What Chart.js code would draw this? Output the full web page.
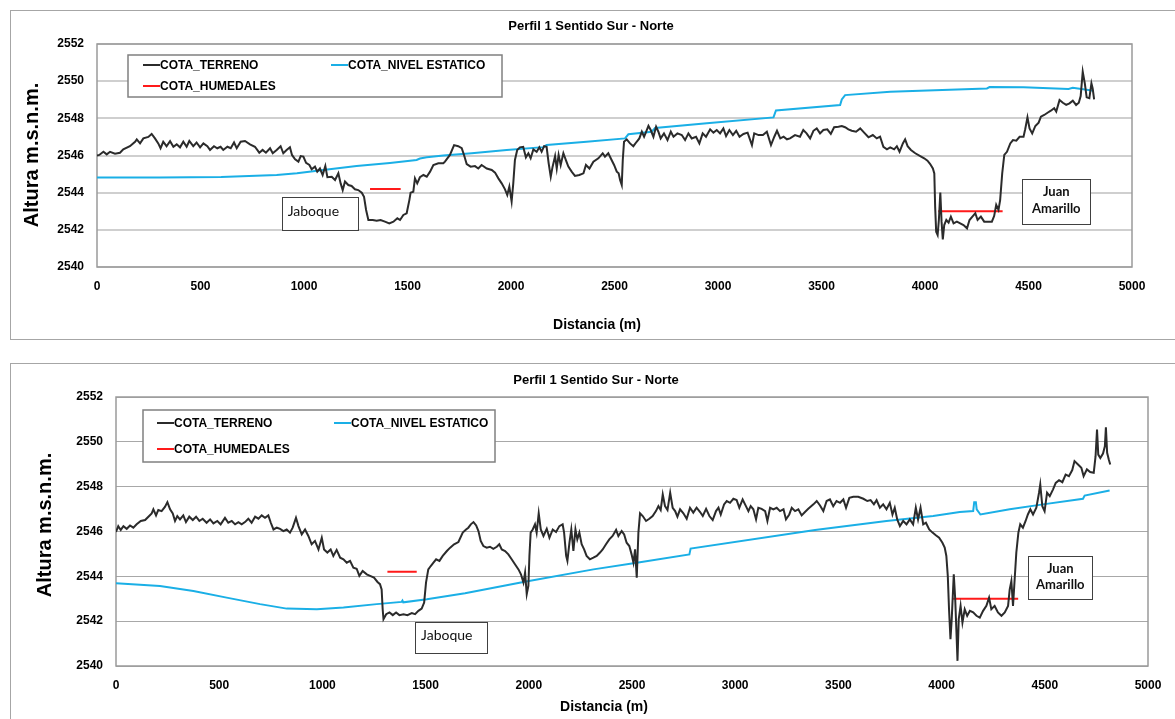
<!DOCTYPE html>
<html>
<head>
<meta charset="utf-8">
<title>Perfil 1 Sentido Sur - Norte</title>
<script src="https://cdn.jsdelivr.net/npm/chart.js@4.4.1/dist/chart.umd.min.js"></script>
<style>
  html, body { margin: 0; padding: 0; background: #fff; overflow: hidden; }
  canvas { position: absolute; }
  #perfilA { left: 10px; top: 10px; }
  #perfilB { left: 10px; top: 363px; }
</style>
</head>
<body>
<canvas id="perfilA" width="1170" height="330"></canvas>
<canvas id="perfilB" width="1170" height="362"></canvas>
<script>
// ---- datos: [distancia (m), cota (m.s.n.m.)] ----

// perfil superior
const terrenoA = [
  [0,2546.0],[11,2546.03],[31,2546.2],[47,2546.06],[63,2546.2],[87,2546.1],[111,2546.15],[127,2546.33],[159,2546.5],[184,2546.74],
  [192,2546.87],[208,2546.65],[224,2546.92],[248,2547.0],[264,2547.16],[280,2546.92],[296,2546.65],[307,2546.39],[320,2546.74],[336,2546.5],
  [353,2546.77],[369,2546.47],[385,2546.6],[401,2546.44],[417,2546.74],[433,2546.47],[446,2546.78],[465,2546.5],[481,2546.7],[498,2546.44],
  [514,2546.65],[533,2546.5],[546,2546.3],[565,2546.5],[581,2546.39],[597,2546.47],[610,2546.3],[630,2546.47],[646,2546.39],[662,2546.7],
  [675,2546.39],[694,2546.74],[715,2546.78],[739,2546.6],[763,2546.47],[784,2546.15],[800,2546.3],[816,2546.15],[836,2546.39],[849,2546.12],
  [868,2546.3],[887,2546.5],[900,2546.12],[916,2546.3],[932,2546.44],[942,2546.03],[957,2545.8],[973,2545.67],[984,2545.97],[997,2545.94],
  [1010,2545.6],[1026,2545.49],[1037,2545.26],[1053,2545.4],[1064,2545.13],[1077,2545.3],[1090,2544.95],[1103,2545.43],[1113,2544.83],[1134,2544.86],
  [1150,2544.68],[1166,2545.04],[1177,2544.5],[1187,2544.14],[1198,2544.6],[1214,2544.41],[1230,2544.36],[1246,2544.18],[1262,2544.14],[1279,2544.0],
  [1290,2543.78],[1300,2543.07],[1311,2542.53],[1332,2542.53],[1351,2542.49],[1370,2542.53],[1391,2542.44],[1412,2542.35],[1432,2542.44],[1451,2542.62],
  [1464,2542.53],[1480,2542.8],[1496,2542.89],[1509,2543.6],[1515,2544.0],[1528,2544.05],[1536,2544.77],[1547,2544.5],[1560,2544.83],[1577,2544.95],
  [1593,2544.86],[1609,2545.13],[1625,2545.49],[1649,2545.58],[1673,2545.58],[1681,2545.67],[1705,2546.03],[1725,2546.56],[1745,2546.5],[1762,2546.39],
  [1773,2546.03],[1786,2545.54],[1805,2545.4],[1826,2545.43],[1842,2545.3],[1858,2545.49],[1883,2545.3],[1907,2545.22],[1923,2545.08],[1939,2544.77],
  [1955,2544.5],[1971,2544.18],[1982,2543.87],[1992,2544.32],[2003,2543.52],[2011,2544.5],[2019,2545.76],[2030,2546.3],[2043,2546.44],[2059,2546.47],
  [2072,2545.9],[2084,2546.12],[2095,2545.85],[2108,2546.33],[2124,2546.2],[2137,2546.44],[2148,2546.2],[2160,2546.5],[2172,2546.47],[2182,2545.58],
  [2192,2544.86],[2201,2545.4],[2213,2545.97],[2221,2545.3],[2230,2546.03],[2240,2545.49],[2253,2546.12],[2266,2545.72],[2277,2545.4],[2293,2545.13],
  [2309,2544.9],[2330,2544.95],[2350,2545.04],[2362,2545.49],[2379,2545.3],[2398,2545.67],[2422,2545.85],[2443,2546.12],[2454,2545.94],[2470,2546.12],
  [2486,2545.76],[2498,2545.49],[2511,2545.13],[2520,2545.04],[2527,2544.68],[2535,2544.41],[2540,2545.76],[2546,2546.74],[2559,2546.87],[2575,2546.65],
  [2591,2546.5],[2607,2546.74],[2620,2546.92],[2632,2547.28],[2643,2547.01],[2653,2547.28],[2664,2547.59],[2675,2547.37],[2688,2547.01],[2701,2547.55],
  [2712,2547.28],[2723,2546.92],[2739,2547.19],[2756,2546.83],[2772,2547.28],[2785,2547.01],[2804,2547.19],[2825,2547.1],[2841,2546.83],[2857,2547.19],
  [2873,2546.92],[2894,2547.01],[2910,2546.65],[2926,2547.19],[2942,2547.01],[2962,2547.41],[2978,2547.23],[2994,2547.37],[3010,2547.19],[3026,2547.46],
  [3039,2547.05],[3055,2547.37],[3072,2547.1],[3088,2547.33],[3104,2547.01],[3123,2547.16],[3143,2547.23],[3164,2546.56],[3175,2547.19],[3196,2547.1],
  [3217,2547.1],[3236,2547.28],[3256,2546.56],[3272,2547.01],[3285,2547.33],[3301,2546.92],[3317,2547.01],[3333,2546.87],[3348,2546.92],[3372,2547.1],
  [3396,2547.01],[3412,2547.37],[3428,2547.19],[3445,2546.92],[3461,2547.33],[3477,2547.46],[3493,2547.19],[3509,2547.37],[3528,2547.41],[3545,2547.16],
  [3561,2547.52],[3582,2547.55],[3598,2547.59],[3614,2547.52],[3630,2547.41],[3646,2547.33],[3667,2547.28],[3687,2547.46],[3706,2547.23],[3727,2546.98],
  [3748,2547.1],[3767,2546.92],[3783,2547.01],[3799,2546.47],[3816,2546.33],[3832,2546.44],[3851,2546.33],[3864,2546.5],[3877,2546.2],[3893,2546.65],
  [3904,2546.87],[3916,2546.5],[3932,2546.3],[3953,2546.12],[3977,2545.97],[3996,2545.85],[4012,2545.72],[4025,2545.54],[4038,2545.3],[4045,2545.04],
  [4049,2543.25],[4054,2541.9],[4061,2541.72],[4067,2542.53],[4074,2544.0],[4080,2542.44],[4086,2541.49],[4093,2542.26],[4103,2542.53],[4114,2542.39],
  [4125,2542.71],[4138,2542.35],[4154,2542.44],[4170,2542.35],[4186,2542.26],[4203,2542.08],[4215,2542.53],[4231,2542.74],[4243,2542.89],[4254,2542.53],
  [4270,2542.71],[4286,2542.44],[4307,2542.44],[4323,2542.44],[4334,2542.74],[4344,2543.34],[4355,2543.07],[4363,2543.6],[4373,2545.04],[4383,2546.03],
  [4396,2546.2],[4412,2546.65],[4425,2546.83],[4441,2546.8],[4457,2547.01],[4476,2547.01],[4484,2547.41],[4495,2548.05],[4505,2547.46],[4518,2547.19],
  [4533,2547.59],[4549,2547.77],[4560,2548.09],[4576,2548.18],[4592,2548.3],[4608,2548.41],[4624,2548.54],[4634,2548.36],[4650,2548.99],[4666,2548.84],
  [4682,2548.72],[4698,2548.81],[4714,2548.95],[4730,2548.72],[4743,2548.84],[4752,2549.2],[4762,2550.51],[4772,2549.88],[4781,2549.13],[4794,2549.08],
  [4804,2549.88],[4810,2549.61],[4817,2549.02]
];
const nivelA = [
  [0,2544.82],[300,2544.82],[600,2544.84],[868,2544.95],[966,2545.04],[1093,2545.22],[1254,2545.43],[1415,2545.6],[1544,2545.76],[1560,2545.84],
  [1593,2545.9],[1673,2546.0],[1810,2546.12],[1979,2546.3],[2156,2546.45],[2172,2546.56],[2365,2546.74],[2551,2546.92],[2567,2547.14],[2680,2547.28],
  [2696,2547.48],[2946,2547.73],[3268,2548.05],[3280,2548.42],[3590,2548.72],[3598,2549.02],[3614,2549.25],[3832,2549.43],[4299,2549.61],[4312,2549.68],
  [4476,2549.67],[4693,2549.58],[4714,2549.64],[4814,2549.49]
];
const humedalesA = [[1319,2544.2],[1467,2544.2],[2700,null],[4064,2543.0],[4375,2543.0]];

// perfil inferior
const terrenoB = [
  [0,2545.98],[11,2546.24],[23,2546.07],[36,2546.24],[52,2546.12],[68,2546.27],[84,2546.17],[100,2546.32],[120,2546.47],[141,2546.51],
  [157,2546.66],[173,2546.81],[181,2546.99],[194,2546.72],[205,2546.96],[221,2546.91],[237,2547.1],[249,2547.31],[262,2546.99],[275,2546.81],
  [286,2546.47],[297,2546.69],[310,2546.54],[326,2546.72],[339,2546.42],[355,2546.66],[372,2546.51],[388,2546.66],[404,2546.47],[420,2546.57],
  [439,2546.39],[456,2546.54],[472,2546.36],[491,2546.47],[507,2546.32],[528,2546.61],[544,2546.39],[561,2546.47],[577,2546.32],[593,2546.42],
  [609,2546.32],[625,2546.42],[641,2546.57],[657,2546.39],[674,2546.66],[690,2546.57],[706,2546.72],[722,2546.61],[738,2546.72],[750,2546.39],
  [763,2546.09],[779,2546.17],[795,2546.12],[811,2546.02],[827,2546.09],[843,2545.95],[856,2546.17],[872,2546.61],[884,2546.24],[900,2545.87],
  [916,2546.09],[932,2545.8],[948,2545.43],[964,2545.58],[981,2545.2],[997,2545.72],[1008,2545.2],[1024,2545.06],[1040,2545.2],[1053,2544.91],
  [1069,2545.18],[1086,2544.83],[1102,2544.76],[1118,2544.61],[1134,2544.69],[1150,2544.39],[1166,2544.34],[1179,2544.02],[1195,2544.24],[1215,2544.09],
  [1231,2544.02],[1250,2543.94],[1267,2543.75],[1279,2543.65],[1287,2543.42],[1292,2542.53],[1296,2542.09],[1309,2542.31],[1325,2542.39],[1341,2542.27],
  [1357,2542.39],[1373,2542.27],[1393,2542.31],[1412,2542.27],[1433,2542.36],[1449,2542.31],[1465,2542.46],[1481,2542.56],[1493,2542.83],[1502,2543.72],
  [1513,2544.31],[1525,2544.46],[1538,2544.61],[1551,2544.76],[1567,2544.69],[1583,2544.91],[1603,2545.13],[1619,2545.28],[1638,2545.43],[1659,2545.53],
  [1680,2545.95],[1696,2546.09],[1707,2546.17],[1719,2546.32],[1732,2546.42],[1745,2546.27],[1756,2546.02],[1767,2545.58],[1780,2545.35],[1796,2545.28],
  [1812,2545.32],[1828,2545.23],[1845,2545.32],[1857,2545.43],[1869,2545.2],[1885,2545.13],[1901,2544.98],[1917,2544.76],[1933,2544.54],[1950,2544.31],
  [1962,2544.09],[1974,2543.72],[1982,2544.17],[1990,2543.2],[1998,2543.57],[2003,2544.91],[2009,2545.95],[2019,2546.09],[2030,2546.32],[2038,2545.95],
  [2048,2546.81],[2058,2546.09],[2071,2545.8],[2087,2546.12],[2100,2545.72],[2116,2546.09],[2132,2545.98],[2148,2546.24],[2164,2546.32],[2171,2545.95],
  [2181,2544.91],[2187,2544.69],[2197,2545.5],[2206,2546.09],[2216,2545.13],[2226,2546.09],[2235,2545.65],[2245,2545.95],[2256,2545.43],[2268,2545.2],
  [2280,2544.91],[2296,2544.76],[2313,2544.83],[2329,2544.91],[2345,2545.06],[2358,2545.2],[2374,2545.43],[2390,2545.65],[2406,2545.8],[2423,2546.07],
  [2434,2545.8],[2450,2546.02],[2462,2545.87],[2474,2545.5],[2487,2545.35],[2498,2544.98],[2507,2544.61],[2515,2545.2],[2523,2543.94],[2531,2545.95],
  [2539,2546.81],[2552,2546.69],[2568,2546.47],[2584,2546.57],[2600,2546.69],[2616,2546.91],[2628,2547.13],[2639,2546.96],[2649,2547.65],[2660,2547.13],
  [2672,2546.96],[2685,2547.73],[2697,2547.06],[2709,2546.91],[2720,2546.66],[2733,2546.99],[2749,2546.81],[2765,2546.57],[2781,2547.06],[2797,2546.84],
  [2813,2547.06],[2830,2546.87],[2843,2546.69],[2859,2547.01],[2875,2546.69],[2891,2546.51],[2907,2546.91],[2919,2547.06],[2930,2546.76],[2946,2547.21],
  [2959,2547.36],[2975,2547.28],[2991,2547.46],[3007,2547.4],[3020,2547.06],[3036,2547.43],[3052,2547.13],[3064,2546.91],[3075,2547.13],[3088,2546.99],
  [3101,2546.54],[3112,2547.06],[3128,2547.01],[3145,2546.91],[3156,2546.47],[3169,2547.06],[3185,2546.99],[3201,2547.06],[3217,2546.91],[3234,2546.99],
  [3246,2546.54],[3262,2546.76],[3274,2547.06],[3290,2546.91],[3306,2546.99],[3322,2546.72],[3338,2546.87],[3354,2547.01],[3379,2547.21],[3395,2547.36],
  [3411,2547.16],[3427,2546.91],[3443,2547.36],[3459,2547.43],[3475,2547.13],[3491,2547.36],[3508,2547.28],[3524,2547.43],[3537,2547.06],[3553,2547.5],
  [3572,2547.55],[3596,2547.55],[3621,2547.46],[3640,2547.36],[3656,2547.4],[3672,2547.21],[3685,2547.4],[3701,2547.06],[3717,2547.21],[3733,2546.99],
  [3749,2547.28],[3762,2546.76],[3773,2547.06],[3785,2546.54],[3798,2546.24],[3814,2546.47],[3830,2546.32],[3846,2546.54],[3862,2546.32],[3875,2547.06],
  [3886,2546.54],[3898,2547.06],[3911,2546.32],[3924,2546.39],[3940,2546.09],[3956,2545.95],[3972,2545.83],[3988,2545.72],[4004,2545.5],[4015,2545.28],
  [4023,2544.91],[4030,2544.02],[4036,2542.53],[4043,2541.2],[4049,2542.09],[4059,2544.09],[4066,2542.98],[4072,2541.5],[4077,2540.23],[4083,2542.09],
  [4092,2542.68],[4101,2541.94],[4112,2542.53],[4124,2542.24],[4137,2542.46],[4153,2542.39],[4169,2542.24],[4185,2542.16],[4201,2542.46],[4217,2542.68],
  [4230,2543.05],[4241,2542.53],[4257,2542.68],[4273,2542.39],[4290,2542.24],[4306,2542.39],[4322,2542.68],[4330,2543.42],[4338,2543.79],[4346,2542.68],
  [4354,2543.87],[4362,2545.06],[4372,2545.95],[4381,2546.32],[4394,2546.17],[4407,2546.47],[4418,2546.76],[4430,2546.99],[4443,2546.76],[4459,2547.06],
  [4472,2547.73],[4478,2548.1],[4488,2547.13],[4499,2546.91],[4511,2547.73],[4524,2547.58],[4540,2547.88],[4553,2548.17],[4569,2548.29],[4585,2548.2],
  [4601,2548.54],[4617,2548.47],[4633,2548.74],[4644,2549.14],[4661,2548.99],[4677,2548.84],[4688,2548.47],[4704,2548.77],[4720,2548.65],[4737,2548.62],
  [4746,2549.36],[4753,2550.55],[4759,2549.43],[4769,2549.28],[4782,2549.48],[4791,2549.8],[4796,2550.65],[4802,2549.51],[4810,2549.21],[4817,2548.99]
];
const nivelB = [
  [0,2543.69],[213,2543.57],[375,2543.35],[536,2543.05],[698,2542.76],[827,2542.56],[973,2542.53],[1102,2542.61],[1263,2542.76],[1384,2542.86],
  [1388,2542.92],[1392,2542.84],[1506,2542.98],[1691,2543.25],[1974,2543.75],[2313,2544.31],[2523,2544.61],[2778,2544.98],[2784,2545.24],[3387,2546.07],
  [3733,2546.47],[3959,2546.69],[4088,2546.87],[4153,2546.91],[4158,2547.31],[4166,2547.31],[4170,2546.99],[4188,2546.76],[4330,2546.99],[4491,2547.21],
  [4685,2547.46],[4693,2547.6],[4814,2547.83]
];
const humedalesB = [[1315,2544.2],[1457,2544.2],[2700,null],[4056,2543.0],[4371,2543.0]];

const series = ['COTA_TERRENO', 'COTA_NIVEL ESTATICO', 'COTA_HUMEDALES'];
const distTicks = [0, 500, 1000, 1500, 2000, 2500, 3000, 3500, 4000, 4500, 5000];
const cotaTicks = [2540, 2542, 2544, 2546, 2548, 2550, 2552];

const FONT = "'Liberation Sans', Arial, sans-serif";
const FONT2 = "Lato, 'Open Sans', sans-serif";
const colores = ['#2b2b2b', '#1aafe6', '#ff1a1a'];

Chart.defaults.font.family = FONT;
Chart.defaults.color = '#000';

const toXY = arr => arr.map(p => ({ x: p[0], y: p[1] }));

// titulos, leyenda, recuadros de texto y marco del area de trazado
const decoPerfil = {
  id: 'decoPerfil',
  beforeDraw(chart, args, o) {
    const { ctx, width, height } = chart;
    ctx.save();
    ctx.fillStyle = '#fff';
    ctx.fillRect(0, 0, width, height);
    ctx.strokeStyle = '#a6a6a6';
    ctx.lineWidth = 1;
    ctx.strokeRect(0.5, 0.5, width + 20, height - 1);
    ctx.restore();
  },
  beforeDatasetsDraw(chart, args, o) {
    const { ctx, chartArea: a } = chart;
    ctx.save();
    ctx.strokeStyle = o.marco;
    ctx.lineWidth = 1.5;
    ctx.strokeRect(a.left, a.top, a.right - a.left, a.bottom - a.top);
    ctx.restore();
  },
  afterDraw(chart, args, o) {
    const { ctx, chartArea: a, scales } = chart;
    ctx.save();
    ctx.fillStyle = '#000';
    ctx.textBaseline = 'middle';

    // titulo
    ctx.font = 'bold 13px ' + FONT;
    ctx.textAlign = 'center';
    ctx.fillText('Perfil 1 Sentido Sur - Norte', o.titulo[0], o.titulo[1]);

    // eje x
    ctx.font = 'bold 14px ' + FONT;
    ctx.fillText('Distancia (m)', o.ejeX[0], o.ejeX[1]);

    // eje y
    ctx.save();
    ctx.translate(o.ejeY[0], o.ejeY[1]);
    ctx.rotate(-Math.PI / 2);
    ctx.font = 'bold 20px ' + FONT;
    ctx.fillText('Altura m.s.n.m.', 0, 0);
    ctx.restore();

    // leyenda
    const L = o.leyenda;
    ctx.fillStyle = '#fff';
    ctx.fillRect(L.x, L.y, L.w, L.h);
    ctx.strokeStyle = '#808080';
    ctx.lineWidth = 1.5;
    ctx.strokeRect(L.x, L.y, L.w, L.h);
    ctx.font = 'bold 12px ' + FONT;
    ctx.textAlign = 'left';
    chart.data.datasets.forEach((ds, i) => {
      const [dx, dy] = L.items[i];
      ctx.strokeStyle = ds.borderColor;
      ctx.lineWidth = 2;
      ctx.beginPath();
      ctx.moveTo(L.x + dx, L.y + dy);
      ctx.lineTo(L.x + dx + 17, L.y + dy);
      ctx.stroke();
      ctx.fillStyle = '#000';
      ctx.fillText(ds.label, L.x + dx + 17, L.y + dy + 1);
    });

    // recuadros de los humedales
    o.notas.forEach(n => {
      const bx = scales.x.getPixelForValue(n.x);
      const by = scales.y.getPixelForValue(n.y);
      ctx.fillStyle = '#fff';
      ctx.fillRect(bx, by, n.w, n.h);
      ctx.strokeStyle = '#404040';
      ctx.lineWidth = 1;
      ctx.strokeRect(Math.round(bx) + 0.5, Math.round(by) + 0.5, n.w, n.h);
      ctx.fillStyle = '#111';
      ctx.font = n.font;
      ctx.textAlign = n.align;
      n.lineas.forEach((t, k) => {
        const tx = n.align === 'center' ? bx + n.w / 2 : bx + 6;
        ctx.fillText(t, tx, by + n.dy + k * n.salto);
      });
    });
    ctx.restore();
  }
};

function crearPerfil(id, datos, geo) {
  const ctx = document.getElementById(id);
  return new Chart(ctx, {
    type: 'line',
    data: {
      datasets: datos.map((d, i) => ({
        label: series[i],
        data: toXY(d),
        borderColor: colores[i],
        backgroundColor: colores[i],
        borderWidth: 2,
        pointRadius: 0,
        tension: 0,
        spanGaps: false
      }))
    },
    options: {
      responsive: false,
      animation: false,
      devicePixelRatio: 1,
      layout: { padding: { top: geo.top, right: geo.right, left: 0, bottom: 0 } },
      plugins: {
        legend: { display: false },
        tooltip: { enabled: false },
        decoPerfil: geo.deco
      },
      scales: {
        x: {
          type: 'linear',
          min: 0,
          max: 5000,
          afterBuildTicks: s => { s.ticks = distTicks.map(v => ({ value: v })); },
          afterFit: s => { s.height = geo.bottom; },
          grid: { display: false, drawTicks: false },
          border: { display: false },
          ticks: { padding: 12, font: { size: 12, weight: 'bold' }, color: '#000', maxRotation: 0, callback: v => String(v) }
        },
        y: {
          min: 2540,
          max: 2552,
          afterBuildTicks: s => { s.ticks = cotaTicks.map(v => ({ value: v })); },
          afterFit: s => { s.width = geo.left; },
          grid: { color: geo.grid, lineWidth: geo.gridW, drawTicks: false },
          border: { display: false },
          ticks: { padding: 13, font: { size: 12, weight: 'bold' }, color: '#000', callback: v => String(v) }
        }
      }
    },
    plugins: [decoPerfil]
  });
}

crearPerfil('perfilA', [terrenoA, nivelA, humedalesA], {
  left: 87, top: 34, right: 48, bottom: 73,
  grid: '#cfcfcf', gridW: 2,
  deco: {
    marco: '#9a9a9a',
    titulo: [581, 16],
    ejeX: [587, 315],
    ejeY: [22, 145],
    leyenda: { x: 118, y: 45, w: 374, h: 42, items: [[15, 10], [203, 10], [15, 31]] },
    notas: [
      { x: 892, y: 2543.77, w: 76, h: 33, lineas: ['Jaboque'], font: '14px ' + FONT2, align: 'left', dy: 15, salto: 0 },
      { x: 4470, y: 2544.76, w: 68, h: 45, lineas: ['Juan', 'Amarillo'], font: 'bold 13px ' + FONT2, align: 'center', dy: 13, salto: 17 }
    ]
  }
});

crearPerfil('perfilB', [terrenoB, nivelB, humedalesB], {
  left: 106, top: 34, right: 32, bottom: 59,
  grid: '#a8a8a8', gridW: 1,
  deco: {
    marco: '#9a9a9a',
    titulo: [586, 17],
    ejeX: [594, 344],
    ejeY: [35, 162],
    leyenda: { x: 133, y: 47, w: 352, h: 52, items: [[14, 13], [191, 13], [14, 39]] },
    notas: [
      { x: 1449, y: 2541.95, w: 72, h: 31, lineas: ['Jaboque'], font: '14px ' + FONT2, align: 'left', dy: 13, salto: 0 },
      { x: 4420, y: 2544.9, w: 64, h: 43, lineas: ['Juan', 'Amarillo'], font: 'bold 13px ' + FONT2, align: 'center', dy: 13, salto: 16 }
    ]
  }
});
</script>
</body>
</html>
